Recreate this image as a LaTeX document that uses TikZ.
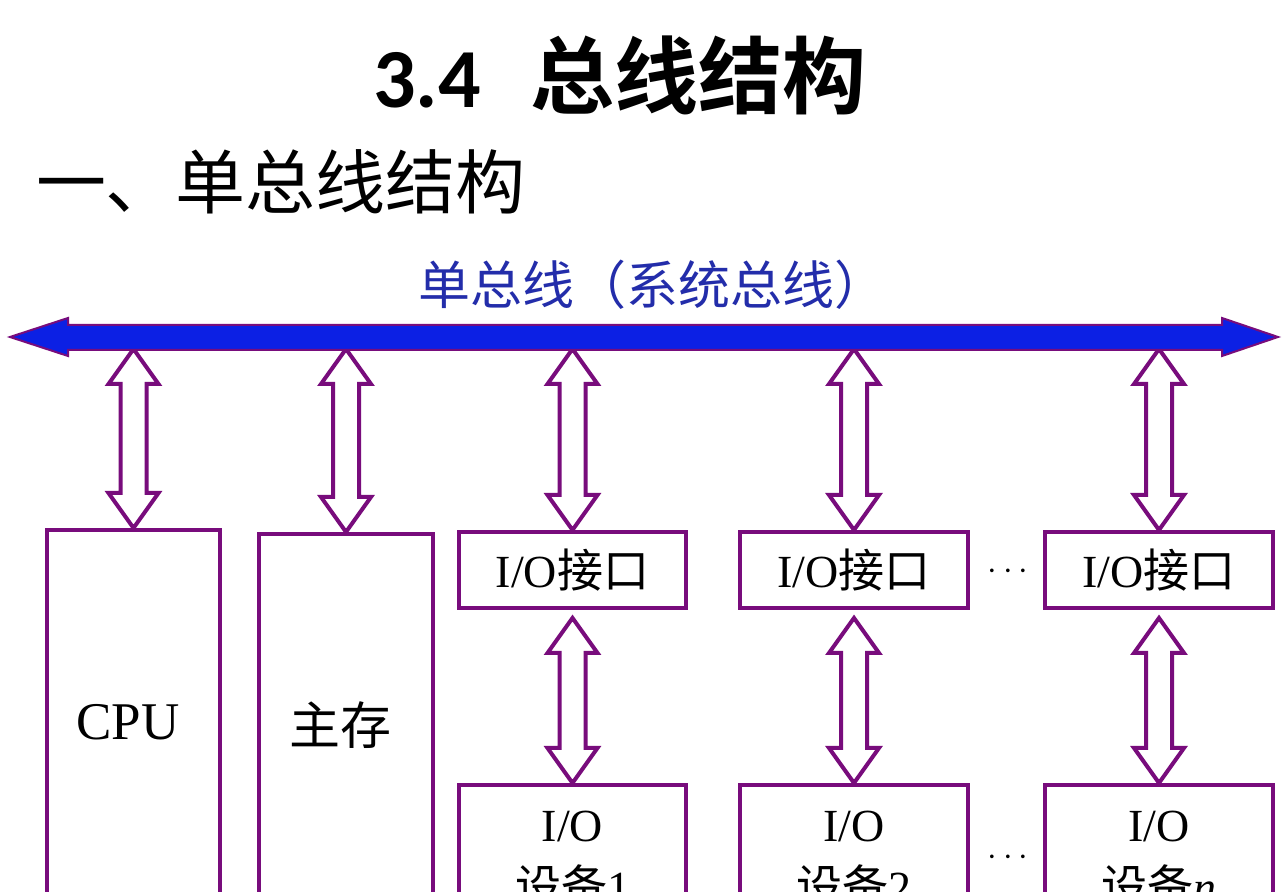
\documentclass[tikz,border=0pt]{standalone}
\usepackage{fontspec}
\setmainfont{Liberation Serif}
\newfontfamily\cjk{Noto Sans CJK SC}[BoldFont={Noto Sans CJK SC Bold}]
\newfontfamily\calibri{Carlito}
\usetikzlibrary{calc,fit}
\definecolor{busblue}{RGB}{12,32,228}
\definecolor{linkpurple}{RGB}{120,12,124}
\definecolor{capblue}{RGB}{35,45,170}
\newcommand\fsz[1]{\fontsize{#1}{#1}\selectfont}
\tikzset{
  unit/.style={draw=linkpurple, line width=2pt, inner sep=0pt},
  lbl/.style={inner sep=0pt, font=\fsz{23}},
  link/.style={draw=linkpurple, line width=2pt, fill=white,
    to path={(\tikztostart) -- ++(25,35) -- ++(-12,0) -- ($(\tikztotarget)+(13,-35)$) -- ++(12,0) -- (\tikztotarget) -- ++(-25,-35) -- ++(12,0) -- ($(\tikztostart)+(-13,35)$) -- ++(-12,0) -- cycle}}
}
\begin{document}
\begin{tikzpicture}[x=0.5pt,y=-0.5pt]
			%%%%% START %%%%%
			\clip (0,0) rectangle (1287,892);
			\fill[white] (0,0) rectangle (1287,892);
			
			\node[lbl] (title) at (620,75) {{\calibri\bfseries\fsz{42}3.4}\hspace{25pt}{\cjk\bfseries\fsz{42}总线结构}};
			\node[lbl] (sub) at (281,182) {\cjk\fsz{35}一、单总线结构};
			\node[lbl, text=capblue] (buslbl) at (652,285) {\cjk\fsz{26}单总线（系统总线）};
			
			% boxes
			\node[unit, fit={(47,530) (220,960)}] (cpu) {};
			\node[unit, fit={(259,534) (433,960)}] (mem) {};
			\node[unit, fit={(459,532) (686,608)}] (if1) {};
			\node[unit, fit={(740,532) (968,608)}] (if2) {};
			\node[unit, fit={(1045,532) (1273,608)}] (if3) {};
			\node[unit, fit={(459,785) (686,960)}] (dev1) {};
			\node[unit, fit={(740,785) (968,960)}] (dev2) {};
			\node[unit, fit={(1045,785) (1273,960)}] (dev3) {};
			
			\node[lbl, font=\fsz{26.5}] (cpulbl) at (128,722) {CPU};
			\node[lbl, font=\fsz{25.5}] (memlbl) at (340,725) {\cjk 主存};
			\node[lbl] (if1lbl) at (if1.center) {I/O{\cjk 接口}};
			\node[lbl] (if2lbl) at (if2.center) {I/O{\cjk 接口}};
			\node[lbl] (if3lbl) at (if3.center) {I/O{\cjk 接口}};
			\node[lbl] (dev1a) at ($(dev1.north)+(0,43)$) {I/O};
			\node[lbl] (dev1b) at ($(dev1.north)+(0,103)$) {{\cjk 设备}1};
			\node[lbl] (dev2a) at ($(dev2.north)+(0,43)$) {I/O};
			\node[lbl] (dev2b) at ($(dev2.north)+(0,103)$) {{\cjk 设备}2};
			\node[lbl] (dev3a) at ($(dev3.north)+(0,43)$) {I/O};
			\node[lbl] (dev3b) at ($(dev3.north)+(0,103)$) {{\cjk 设备}\textit{n}};
			\node[lbl, font=\fsz{18}] (dots1) at (1008,572) {$\cdots$};
			\node[lbl, font=\fsz{18}] (dots2) at (1008,858) {$\cdots$};
			
			% taps on the bus
			\coordinate (tcpu) at (cpu.north |- 0,349);
			\coordinate (tmem) at (mem.north |- 0,349);
			\coordinate (tif1) at (if1.north |- 0,349);
			\coordinate (tif2) at (if2.north |- 0,349);
			\coordinate (tif3) at (if3.north |- 0,349);
			\coordinate (bif1) at ($(if1.south)+(0,8)$);
			\coordinate (bif2) at ($(if2.south)+(0,8)$);
			\coordinate (bif3) at ($(if3.south)+(0,8)$);
			
			\draw[link] (tcpu) to (cpu.north);
			\draw[link] (tmem) to (mem.north);
			\draw[link] (tif1) to (if1.north);
			\draw[link] (tif2) to (if2.north);
			\draw[link] (tif3) to (if3.north);
			\draw[link] (bif1) to (dev1.north);
			\draw[link] (bif2) to (dev2.north);
			\draw[link] (bif3) to (dev3.north);
			
			% the bus
			\draw[draw=linkpurple, line width=1pt, fill=busblue] (10,337) -- (68,318) -- (68,325) -- (1222,325) -- (1222,318) -- (1278,337) -- (1222,356) -- (1222,350) -- (68,350) -- (68,356) -- cycle;
			
			%%%%% END %%%%%
\end{tikzpicture}
\end{document}
